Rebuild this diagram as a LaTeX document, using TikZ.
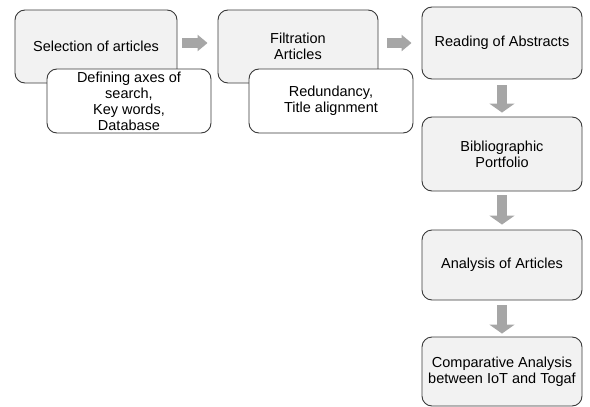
\documentclass[tikz,border=0pt]{standalone}
\usepackage{fontspec}
\setmainfont{Liberation Sans}
\usetikzlibrary{arrows.meta}
\definecolor{boxgray}{HTML}{F2F2F2}
\definecolor{arrowgray}{HTML}{A6A6A6}
\definecolor{edgegray}{HTML}{3A3A3A}

\begin{document}
\begin{tikzpicture}[x=1pt,y=1pt,
    stage/.style={draw=edgegray, line width=0.9pt, fill=boxgray, rounded corners=10pt,
      align=center, inner sep=2pt, font=\fontsize{14.5}{16}\selectfont},
    note/.style={stage, fill=white},
    flow/.style={arrowgray, line width=10pt, -{Triangle[width=16pt,length=10pt]}},
    flowdown/.style={arrowgray, line width=10pt, -{Triangle[width=25pt,length=9pt]}}]
    \useasboundingbox (0,0) rectangle (590,-407);
    % top row
    \node[stage, minimum width=162pt, minimum height=73pt] (sel) at (96,-46.5) {Selection of articles};
    \node[note, minimum width=164pt, minimum height=64pt] (axes) at (129,-101)
      {Defining axes of\\search,\\Key words,\\Database};
    \node[stage, minimum width=160pt, minimum height=73pt] (filt) at (298,-46.5) {Filtration\\Articles};
    \node[note, minimum width=164pt, minimum height=64pt] (redund) at (331,-101)
      {Redundancy,\\Title alignment};
    \node[stage, minimum width=160pt, minimum height=72pt] (read) at (502,-43) {Reading of Abstracts};
    % right column
    \node[stage, minimum width=160pt, minimum height=74pt] (biblio) at (502,-154) {Bibliographic\\Portfolio};
    \node[stage, minimum width=160pt, minimum height=70pt] (anal) at (502,-265) {Analysis of Articles};
    \node[stage, minimum width=160pt, minimum height=69pt] (comp) at (502,-371.5)
      {Comparative Analysis\\between IoT and Togaf};
    % arrows
    \draw[flow, shorten <=5pt, shorten >=10pt] (sel.east |- read.west) -- (filt.west |- read.west);
    \draw[flow, shorten <=9pt, shorten >=10pt] (filt.east |- read.west) -- (read.west);
    \draw[flowdown, shorten <=6pt, shorten >=4pt] (read) -- (biblio);
    \draw[flowdown, shorten <=4pt, shorten >=5pt] (biblio) -- (anal);
    \draw[flowdown, shorten <=5pt, shorten >=3pt] (anal) -- (comp);
\end{tikzpicture}
\end{document}
